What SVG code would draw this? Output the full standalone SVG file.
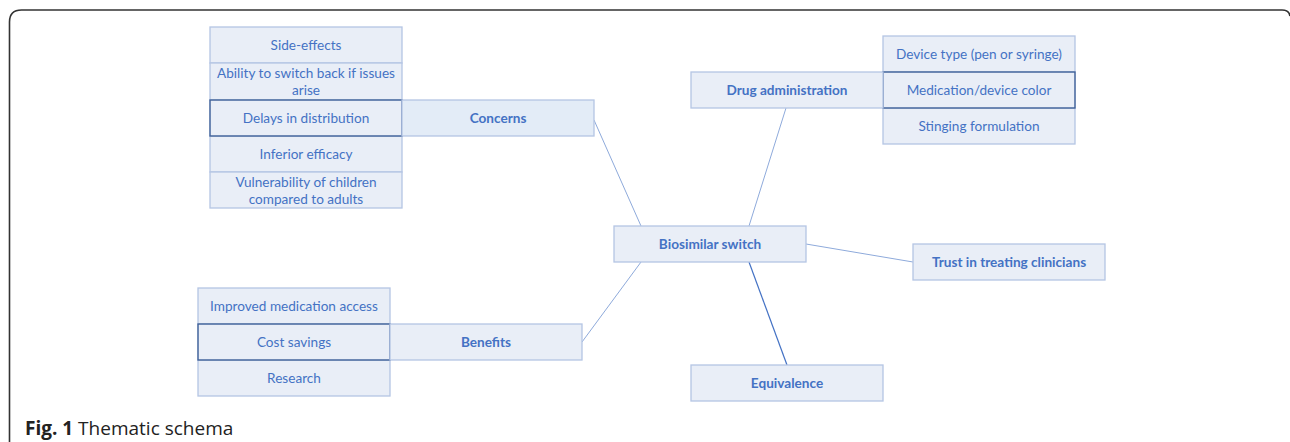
<svg xmlns="http://www.w3.org/2000/svg" width="1290" height="442" viewBox="0 0 1290 442">
<style>
.b{fill:#e9eef7;stroke:#b4c5e4;stroke-width:1.3}
.c{fill:#e3ecf7;stroke:#b4c5e4;stroke-width:1.3}
.d{fill:none;stroke:#3e5f96;stroke-width:1.3}
.t{font-family:Lato,"Open Sans",sans-serif;font-size:13.6px;fill:#4472c4;text-anchor:middle}
.h{font-family:Lato,"Open Sans",sans-serif;font-size:13.6px;fill:#4472c4;text-anchor:middle;font-weight:bold}
.l{stroke:#8eaadb;stroke-width:1;fill:none}
</style>
<rect width="1290" height="442" fill="#fff"/>
<path d="M9.5 442 V22 Q9.5 10 21.5 10 H1282 Q1289 10 1290 16" fill="none" stroke="#333" stroke-width="1.6"/>
<text x="25" y="435" font-family="'Open Sans',sans-serif" font-size="19px" fill="#222"><tspan font-weight="bold">Fig. 1</tspan> Thematic schema</text>
<g id="connectors">
<line class="l" x1="594" y1="120" x2="641" y2="226"/>
<line class="l" x1="786" y1="108" x2="749" y2="226"/>
<line class="l" x1="806" y1="244" x2="913" y2="262"/>
<line class="l" x1="582" y1="342" x2="641" y2="262"/>
<line x1="749" y1="262" x2="787" y2="365" stroke="#4472c4" stroke-width="1.2"/>
</g>
<g id="concerns-items">
<rect class="b" x="210" y="27" width="192" height="36"/>
<text class="t" x="306" y="50">Side-effects</text>
<rect class="b" x="210" y="63" width="192" height="37"/>
<text class="t" x="306" y="78">Ability to switch back if issues</text>
<text class="t" x="306" y="95">arise</text>
<rect class="b" x="210" y="136" width="192" height="36"/>
<text class="t" x="306" y="159">Inferior efficacy</text>
<rect class="b" x="210" y="172" width="192" height="36"/>
<text class="t" x="306" y="187">Vulnerability of children</text>
<text class="t" x="306" y="204">compared to adults</text>
<rect class="b" x="210" y="100" width="192" height="36"/>
<rect class="d" x="210" y="100" width="192" height="36"/>
<text class="t" x="306" y="123">Delays in distribution</text>
</g>
<g id="concerns">
<rect class="c" x="402" y="100" width="192" height="36"/>
<text class="h" x="498" y="123">Concerns</text>
</g>
<g id="drug-items">
<rect class="b" x="883" y="36" width="192" height="36"/>
<text class="t" x="979" y="59">Device type (pen or syringe)</text>
<rect class="b" x="883" y="108" width="192" height="36"/>
<text class="t" x="979" y="131">Stinging formulation</text>
<rect class="b" x="883" y="72" width="192" height="36"/>
<rect class="d" x="883" y="72" width="192" height="36"/>
<text class="t" x="979" y="95">Medication/device color</text>
</g>
<g id="drug-administration">
<rect class="b" x="691" y="72" width="192" height="36"/>
<text class="h" x="787" y="95">Drug administration</text>
</g>
<g id="biosimilar-switch">
<rect class="b" x="614" y="226" width="192" height="36"/>
<text class="h" x="710" y="249">Biosimilar switch</text>
</g>
<g id="trust">
<rect class="b" x="913" y="244" width="192" height="36"/>
<text class="h" x="1009" y="267">Trust in treating clinicians</text>
</g>
<g id="equivalence">
<rect class="b" x="691" y="365" width="192" height="36"/>
<text class="h" x="787" y="388">Equivalence</text>
</g>
<g id="benefits-items">
<rect class="b" x="198" y="288" width="192" height="36"/>
<text class="t" x="294" y="311">Improved medication access</text>
<rect class="b" x="198" y="360" width="192" height="36"/>
<text class="t" x="294" y="383">Research</text>
<rect class="b" x="198" y="324" width="192" height="36"/>
<rect class="d" x="198" y="324" width="192" height="36"/>
<text class="t" x="294" y="347">Cost savings</text>
</g>
<g id="benefits">
<rect class="b" x="390" y="324" width="192" height="36"/>
<text class="h" x="486" y="347">Benefits</text>
</g>
</svg>
